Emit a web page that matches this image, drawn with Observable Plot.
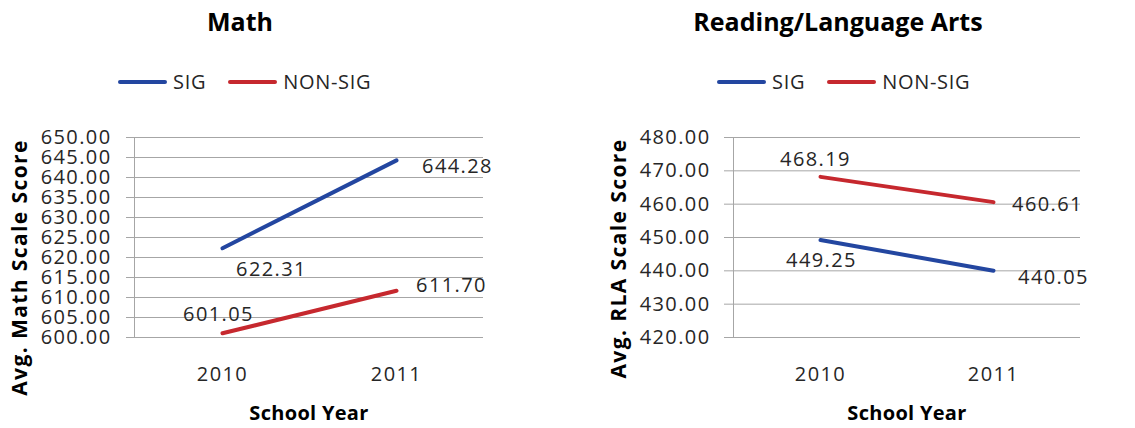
<!DOCTYPE html>
<html><head><meta charset="utf-8">
<script src="https://cdn.jsdelivr.net/npm/d3@7"></script>
<script src="https://cdn.jsdelivr.net/npm/@observablehq/plot@0.6"></script>
<style>
body{margin:0;background:#fff;font-family:"Open Sans",sans-serif;}
#wrap{position:relative;width:1135px;height:428px;overflow:hidden;}
.panel{position:absolute;top:0;width:567px;height:428px;}
.title{position:absolute;top:4px;width:400px;text-align:center;font-weight:bold;font-size:25px;color:#000;white-space:nowrap;}
.legend{position:absolute;top:68px;display:flex;align-items:center;font-size:20px;letter-spacing:0.7px;color:#262626;white-space:nowrap;}
.legend .sw{display:inline-block;width:49px;height:4px;border-radius:2px;margin-right:6px;}
.legend .item{display:flex;align-items:center;margin-right:22px;}
.chart{position:absolute;top:110px;left:0;}
g[aria-label="x-axis label"] text{font-weight:bold;font-size:20px;fill:#000;letter-spacing:0.3px;}
</style>
</head><body>
<div id="wrap"></div>
<script>
// ---- data ----
const years = ["2010", "2011"];
const seriesNames = ["SIG", "NON-SIG"];
const mathSIG = [622.31, 644.28];
const mathNonSIG = [601.05, 611.70];
const rlaSIG = [449.25, 440.05];
const rlaNonSIG = [468.19, 460.61];
const mathTicks = [600, 605, 610, 615, 620, 625, 630, 635, 640, 645, 650];
const rlaTicks = [420, 430, 440, 450, 460, 470, 480];
const panelTitles = ["Math", "Reading/Language Arts"];
const yLabels = ["Avg. Math Scale Score", "Avg. RLA Scale Score"];
const xLabel = "School Year";

// ---- style ----
const colors = ["#2346A0", "#C6282E"];
const grid = "#a6a6a6";

function makeChart(o) {
  const data = [];
  years.forEach((yr, i) => {
    data.push({year: yr, series: "SIG", value: o.sig[i]});
    data.push({year: yr, series: "NON-SIG", value: o.non[i]});
  });
  const labelMarks = data.map(d => {
    const off = o.offsets[d.series][d.year];
    return Plot.text([d], {x: "year", y: "value", text: v => v.value.toFixed(2),
      dx: off[0], dy: off[1], fontSize: 20, fill: "#262626", textAnchor: "middle", lineAnchor: "middle"});
  });
  return Plot.plot({
    width: o.width, height: 318,
    marginTop: 27, marginBottom: 91, marginLeft: o.marginLeft, marginRight: o.marginRight,
    style: {fontFamily: "Open Sans", fontSize: "20px", letterSpacing: "1.4px", color: "#262626", background: "transparent", overflow: "visible"},
    x: {type: "point", domain: years, padding: 0.5, align: 0.5},
    y: {domain: o.domain},
    color: {domain: seriesNames, range: colors},
    marks: [
      Plot.gridY(o.ticks, {stroke: grid, strokeOpacity: 1}),
      Plot.frame({anchor: "left", stroke: grid}),
      Plot.axisY(o.ticks, {tickSize: o.tickSize, tickPadding: o.tickPadding, stroke: grid,
        tickFormat: d => d.toFixed(2), label: null}),
      Plot.text([o.yLabel], {frameAnchor: "left", rotate: -90, dx: -122, dy: o.yLabelShift,
        textAnchor: "middle", lineAnchor: "top", fontSize: 21, fontWeight: "bold", fill: "#000",
        style: "letter-spacing:1.3px"}),
      Plot.axisX({tickSize: 0, tickPadding: 29, label: xLabel, labelAnchor: "center", labelArrow: "none", labelOffset: 82}),
      Plot.line(data, {x: "year", y: "value", z: "series", stroke: "series", strokeWidth: 4}),
      ...labelMarks
    ]
  });
}

const panels = [
  {left: 0, titleCenter: 240, legendLeft: 118, sig: mathSIG, non: mathNonSIG, ticks: mathTicks, domain: [600, 650],
   marginLeft: 134, marginRight: 84, tickSize: 8, tickPadding: 15, yLabelShift: 30,
   offsets: {"SIG": {"2010": [49, 21], "2011": [61, 6]}, "NON-SIG": {"2010": [-4, -19], "2011": [55, -5]}}},
  {left: 567, titleCenter: 271, legendLeft: 150, sig: rlaSIG, non: rlaNonSIG, ticks: rlaTicks, domain: [420, 480],
   marginLeft: 166, marginRight: 54, tickSize: 9, tickPadding: 14, yLabelShift: 21,
   offsets: {"SIG": {"2010": [1, 21], "2011": [60, 7]}, "NON-SIG": {"2010": [-5, -17], "2011": [54, 2]}}}
];

const wrap = document.getElementById("wrap");
panels.forEach((p, i) => {
  const panel = document.createElement("div");
  panel.className = "panel";
  panel.style.left = p.left + "px";
  const t = document.createElement("div");
  t.className = "title";
  t.style.left = (p.titleCenter - 200) + "px";
  t.textContent = panelTitles[i];
  panel.appendChild(t);
  const lg = document.createElement("div");
  lg.className = "legend";
  lg.style.left = p.legendLeft + "px";
  seriesNames.forEach((s, j) => {
    const it = document.createElement("span");
    it.className = "item";
    const sw = document.createElement("span");
    sw.className = "sw";
    sw.style.background = colors[j];
    it.appendChild(sw);
    it.appendChild(document.createTextNode(s));
    lg.appendChild(it);
  });
  panel.appendChild(lg);
  const c = document.createElement("div");
  c.className = "chart";
  c.appendChild(makeChart({...p, width: 567, yLabel: yLabels[i]}));
  panel.appendChild(c);
  wrap.appendChild(panel);
});
</script>
</body></html>
